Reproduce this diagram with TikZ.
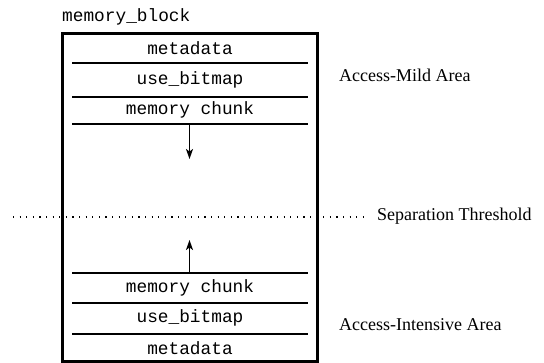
\documentclass[tikz,border=0pt]{standalone}
\usepackage{fontspec}
\setmainfont{Liberation Serif}
\setmonofont{Liberation Mono}
\usetikzlibrary{arrows.meta}
\begin{document}
\begin{tikzpicture}[x=1pt,y=-1pt,
  field/.style={font=\ttfamily\fontsize{17.8}{21}\selectfont, inner sep=0pt, anchor=center},
  arealabel/.style={font=\fontsize{18}{22}\selectfont, inner sep=0pt, anchor=west},
  divider/.style={line width=1.4pt},
  growth/.style={line width=1.4pt, -{Stealth[length=10pt,width=7pt,inset=2.5pt]}},
  threshold/.style={line width=1.1pt, dash pattern=on 1.1pt off 5.5pt},
]
\useasboundingbox (0,0) rectangle (544,363);

% outer block
\node[draw, line width=3pt, minimum width=255pt, minimum height=328pt, inner sep=0pt] (block) at (189.5,198) {};
\node[field, anchor=west] (title) at (62,17) {memory\_block};

% upper region: fields growing downwards
\node[field] (meta1) at (190,48) {metadata};
\node[field] (bitmap1) at (190,80) {use\_bitmap};
\node[field] (chunk1) at (190,110) {memory chunk};
\draw[divider] (72,63) -- (308,63);
\draw[divider] (72,97) -- (308,97);
\draw[divider] (72,124) -- (308,124);
\coordinate (downstart) at (189.5,124);
\coordinate (downtip) at (189.5,159);
\draw[growth] (downstart) -- (downtip);

% lower region: fields growing upwards
\node[field] (chunk2) at (190,288) {memory chunk};
\node[field] (bitmap2) at (190,318) {use\_bitmap};
\node[field] (meta2) at (190,348) {metadata};
\draw[divider] (72,273) -- (308,273);
\draw[divider] (72,303) -- (308,303);
\draw[divider] (72,334) -- (308,334);
\coordinate (upstart) at (189.5,273);
\coordinate (uptip) at (189.5,240);
\draw[growth] (upstart) -- (uptip);

% separation threshold
\coordinate (thrL) at (13,217);
\coordinate (thrR) at (363,217);
\draw[threshold] (thrL) -- (thrR);
\node[arealabel] (thr) at (377,216) {Separation Threshold};

% area labels
\node[arealabel] (mild) at (339,75) {Access-Mild Area};
\node[arealabel] (intensive) at (339,325) {Access-Intensive Area};
\end{tikzpicture}
\end{document}
